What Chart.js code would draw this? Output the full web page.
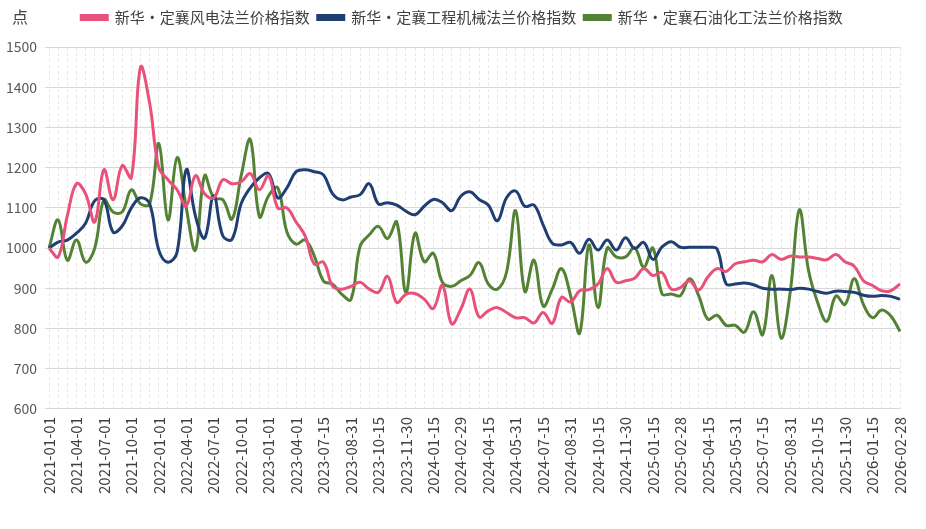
<!DOCTYPE html>
<html>
<head>
<meta charset="utf-8">
<script src="https://cdn.jsdelivr.net/npm/chart.js@4.4.1/dist/chart.umd.min.js"></script>
<style>
  body { margin: 0; background: #fff; }
  #wrap { width: 926px; height: 529px; position: relative; }
</style>
</head>
<body>
<div id="wrap"><canvas id="flange"></canvas></div>
<script>
// dates (categories) - monthly until 2023-04, then twice a month
const dates = [
  '2021-01-01','2021-02-01','2021-03-01','2021-04-01','2021-05-01','2021-06-01',
  '2021-07-01','2021-08-01','2021-09-01','2021-10-01','2021-11-01','2021-12-01',
  '2022-01-01','2022-02-01','2022-03-01','2022-04-01','2022-05-01','2022-06-01',
  '2022-07-01','2022-08-01','2022-09-01','2022-10-01','2022-11-01','2022-12-01',
  '2023-01-01','2023-02-01','2023-03-01','2023-04-01','2023-05-15','2023-06-30',
  '2023-07-15','2023-07-31','2023-08-15','2023-08-31','2023-09-15','2023-09-30',
  '2023-10-15','2023-10-31','2023-11-15','2023-11-30','2023-12-15','2023-12-31',
  '2024-01-15','2024-01-31','2024-02-15','2024-02-29','2024-03-15','2024-03-31',
  '2024-04-15','2024-04-30','2024-05-15','2024-05-31','2024-06-15','2024-06-30',
  '2024-07-15','2024-07-31','2024-08-15','2024-08-31','2024-09-15','2024-09-30',
  '2024-10-15','2024-10-31','2024-11-15','2024-11-30','2024-12-15','2024-12-31',
  '2025-01-15','2025-01-31','2025-02-15','2025-02-28','2025-03-15','2025-03-31',
  '2025-04-15','2025-04-30','2025-05-15','2025-05-31','2025-06-15','2025-06-30',
  '2025-07-15','2025-07-31','2025-08-15','2025-08-31','2025-09-15','2025-09-30',
  '2025-10-15','2025-10-31','2025-11-15','2025-11-30','2025-12-15','2025-12-31',
  '2026-01-15','2026-01-31','2026-02-15','2026-02-28'
];

const windPower = [
  1000, 978, 1080, 1160, 1135, 1065, 1195, 1120, 1205, 1175, 1450, 1360,
  1200, 1170, 1145, 1105, 1180, 1135, 1125, 1170, 1160, 1165, 1185, 1145,
  1180, 1100, 1100, 1065, 1030, 960, 965, 905, 898, 905, 915, 898,
  890, 930, 865, 885, 887, 873, 850, 907, 812, 848, 898, 829,
  844, 852, 840, 827, 827, 814, 840, 813, 877, 866, 894, 897,
  911, 949, 915, 919, 925, 949, 932, 939, 898, 902, 919, 896,
  928, 949, 942, 961, 966, 970, 966, 984, 972, 980, 978, 978,
  974, 971, 984, 966, 955, 919, 907, 894, 894, 911
];

const machinery = [
  1000, 1015, 1020, 1037, 1062, 1118, 1120, 1040, 1055, 1100, 1125, 1110,
  995, 965, 990, 1195, 1080, 1025, 1130, 1030, 1022, 1110, 1150, 1175,
  1185, 1125, 1150, 1190, 1195, 1190, 1182, 1135, 1120, 1127, 1133, 1160,
  1110, 1113, 1107, 1092, 1083, 1104, 1121, 1113, 1093, 1129, 1140, 1121,
  1107, 1068, 1125, 1142, 1104, 1107, 1058, 1012, 1008, 1014, 987, 1022,
  995, 1020, 995, 1026, 999, 1014, 972, 1003, 1016, 1002, 1002, 1002,
  1002, 998, 911, 911, 913, 909, 900, 898, 898, 897, 900, 898,
  892, 888, 893, 892, 890, 883, 880, 882, 880, 873
];

const petrochem = [
  1000, 1070, 970, 1020, 965, 1000, 1120, 1090, 1090, 1145, 1110, 1110,
  1260, 1070, 1225, 1100, 995, 1180, 1125, 1120, 1072, 1180, 1270, 1078,
  1130, 1150, 1040, 1010, 1020, 980, 918, 910, 885, 872, 1005, 1033,
  1054, 1024, 1065, 890, 1037, 966, 987, 915, 905, 919, 932, 964,
  911, 898, 940, 1093, 892, 970, 856, 898, 949, 882, 789, 1008,
  852, 1000, 978, 978, 1001, 953, 1000, 886, 886, 882, 924, 882,
  823, 833, 808, 808, 791, 842, 785, 932, 776, 890, 1095, 945,
  865, 818, 881, 860, 924, 860, 827, 846, 831, 793
];

const seriesNames = ['新华·定襄风电法兰价格指数', '新华·定襄工程机械法兰价格指数', '新华·定襄石油化工法兰价格指数'];
const seriesColors = ['#E9507A', '#1F3F73', '#548235'];
const unitLabel = '点';

const fontFamily = "'Microsoft YaHei', 'Noto Sans CJK SC', sans-serif";

// draws the unit text at top left
const unitPlugin = {
  id: 'unitText',
  afterDraw(chart) {
    const ctx = chart.ctx;
    ctx.save();
    ctx.font = '16px ' + fontFamily;
    ctx.fillStyle = '#404040';
    ctx.textAlign = 'left';
    ctx.textBaseline = 'middle';
    ctx.fillText(unitLabel, 12, 17);
    ctx.restore();
  }
};

// extra gap under the legend, and nudge it a bit to the right
const legendGap = {
  id: 'legendGap',
  beforeInit(chart) {
    const origFit = chart.legend.fit;
    chart.legend.fit = function () {
      origFit.bind(chart.legend)();
      this.height += 12;
    };
  },
  afterLayout(chart) {
    chart.legend.left += 8;
    chart.legend.right += 8;
  }
};

function makeSet(i, values) {
  return {
    label: seriesNames[i],
    data: values,
    borderColor: seriesColors[i],
    backgroundColor: seriesColors[i],
    borderWidth: 3,
    pointRadius: 0,
    tension: 0.4,
    fill: false
  };
}

const ctx = document.getElementById('flange').getContext('2d');
new Chart(ctx, {
  type: 'line',
  data: {
    labels: dates,
    datasets: [makeSet(0, windPower), makeSet(1, machinery), makeSet(2, petrochem)]
  },
  options: {
    responsive: true,
    maintainAspectRatio: false,
    animation: false,
    layout: { padding: { left: 4, right: 22, top: 2, bottom: 27 } },
    plugins: {
      legend: {
        position: 'top',
        labels: {
          boxWidth: 26,
          boxHeight: 4,
          padding: 8,
          color: '#404040',
          font: { size: 15, family: fontFamily }
        }
      },
      tooltip: { enabled: false }
    },
    scales: {
      x: {
        grid: { color: '#e6e6e6', drawTicks: false },
        border: { display: false, dash: [3, 3] },
        ticks: {
          autoSkip: false,
          maxRotation: 90,
          minRotation: 90,
          padding: 8,
          color: '#404040',
          font: { size: 15, family: fontFamily },
          callback: function (val, idx) {
            return idx % 3 === 0 ? dates[idx] : '';
          }
        }
      },
      y: {
        min: 600,
        max: 1500,
        afterFit: function (scale) { scale.width = 45; },
        grid: { color: '#d9d9d9', tickLength: 4 },
        border: { display: false },
        ticks: {
          stepSize: 100,
          padding: 8,
          color: '#595959',
          font: { size: 14, family: fontFamily },
          callback: function (v) { return String(v); }
        }
      }
    }
  },
  plugins: [unitPlugin, legendGap]
});
</script>
</body>
</html>
